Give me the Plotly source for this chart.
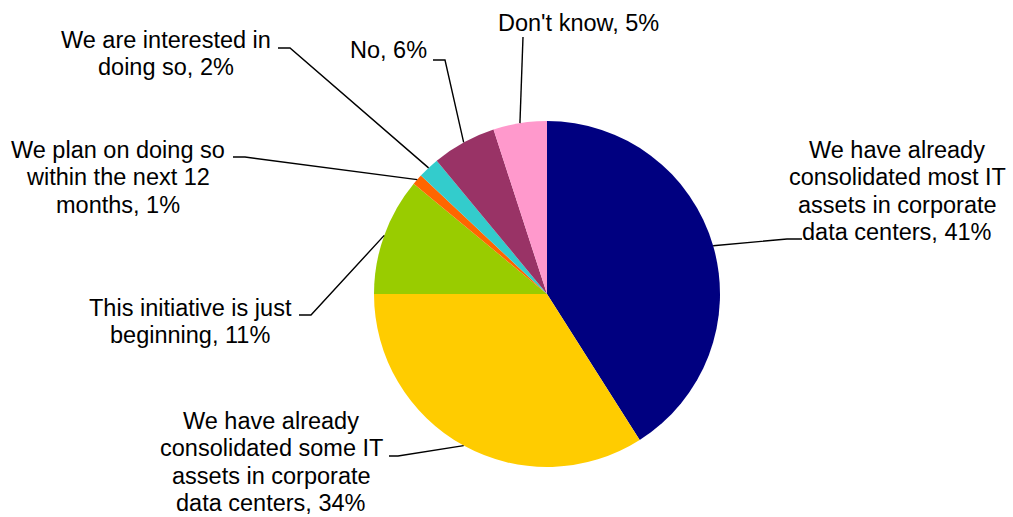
import math
import plotly.graph_objects as go

W, H = 1013, 517

categories = [
    "We have already consolidated most IT assets in corporate data centers",
    "We have already consolidated some IT assets in corporate data centers",
    "This initiative is just beginning",
    "We plan on doing so within the next 12 months",
    "We are interested in doing so",
    "No",
    "Don't know",
]
values = [41, 34, 11, 1, 2, 6, 5]
colors = ["#000080", "#FFCC00", "#99CC00", "#FF6600", "#33CCCC", "#993366", "#FF99CC"]

label_lines = [
    ["We have already", "consolidated most IT", "assets in corporate", "data centers, 41%"],
    ["We have already", "consolidated some IT", "assets in corporate", "data centers, 34%"],
    ["This initiative is just", "beginning, 11%"],
    ["We plan on doing so", "within the next 12", "months, 1%"],
    ["We are interested in", "doing so, 2%"],
    ["No, 6%"],
    ["Don't know, 5%"],
]

# layout (pixels): label block centre x, first-line centre y
label_cx = [897, 271, 190, 118, 166, 388, 578]
label_y0 = [150, 421, 308, 150, 40, 50, 23]
line_pitch = 27.4
# leader line: start point near label, elbow point
leader_start = [(802, 239), (389, 456), (299, 315), (233, 157), (278, 48), (433, 60), (523, 37)]
leader_elbow = [(787, 239), (398, 456), (311, 315), (245, 157), (290, 48), (445, 60), (523, 37)]

# pie geometry (pixels)
cx, cy, r = 547, 294, 173


def px(x):
    return x / W


def py(y):
    return 1 - y / H


fig = go.Figure()
fig.add_trace(go.Pie(
    labels=categories,
    values=values,
    marker=dict(colors=colors, line=dict(width=0)),
    sort=False,
    direction="clockwise",
    rotation=0,
    textinfo="none",
    hoverinfo="label+percent",
    showlegend=False,
    domain=dict(x=[px(cx - r), px(cx + r)], y=[py(cy + r), py(cy - r)]),
))

total = sum(values)
cum = 0
shapes = []
annotations = []
font = dict(family="Liberation Sans, Arial, sans-serif", size=23.5, color="#000000")
for i, v in enumerate(values):
    mid = (cum + v / 2) / total
    cum += v
    th = 2 * math.pi * mid
    ex = cx + r * math.sin(th)
    ey = cy - r * math.cos(th)
    (sx, sy), (bx, by) = leader_start[i], leader_elbow[i]
    path = f"M {px(sx)} {py(sy)} L {px(bx)} {py(by)} L {px(ex)} {py(ey)}"
    shapes.append(dict(type="path", path=path, xref="paper", yref="paper",
                       line=dict(color="#000000", width=1.4)))
    for j, t in enumerate(label_lines[i]):
        annotations.append(dict(
            text=t, x=px(label_cx[i]), y=py(label_y0[i] + j * line_pitch),
            xref="paper", yref="paper", xanchor="center", yanchor="middle",
            showarrow=False, font=font, borderpad=0,
        ))

fig.update_layout(
    width=W, height=H,
    margin=dict(l=0, r=0, t=0, b=0),
    paper_bgcolor="#FFFFFF",
    plot_bgcolor="#FFFFFF",
    shapes=shapes,
    annotations=annotations,
)

fig.write_html("out.html")
